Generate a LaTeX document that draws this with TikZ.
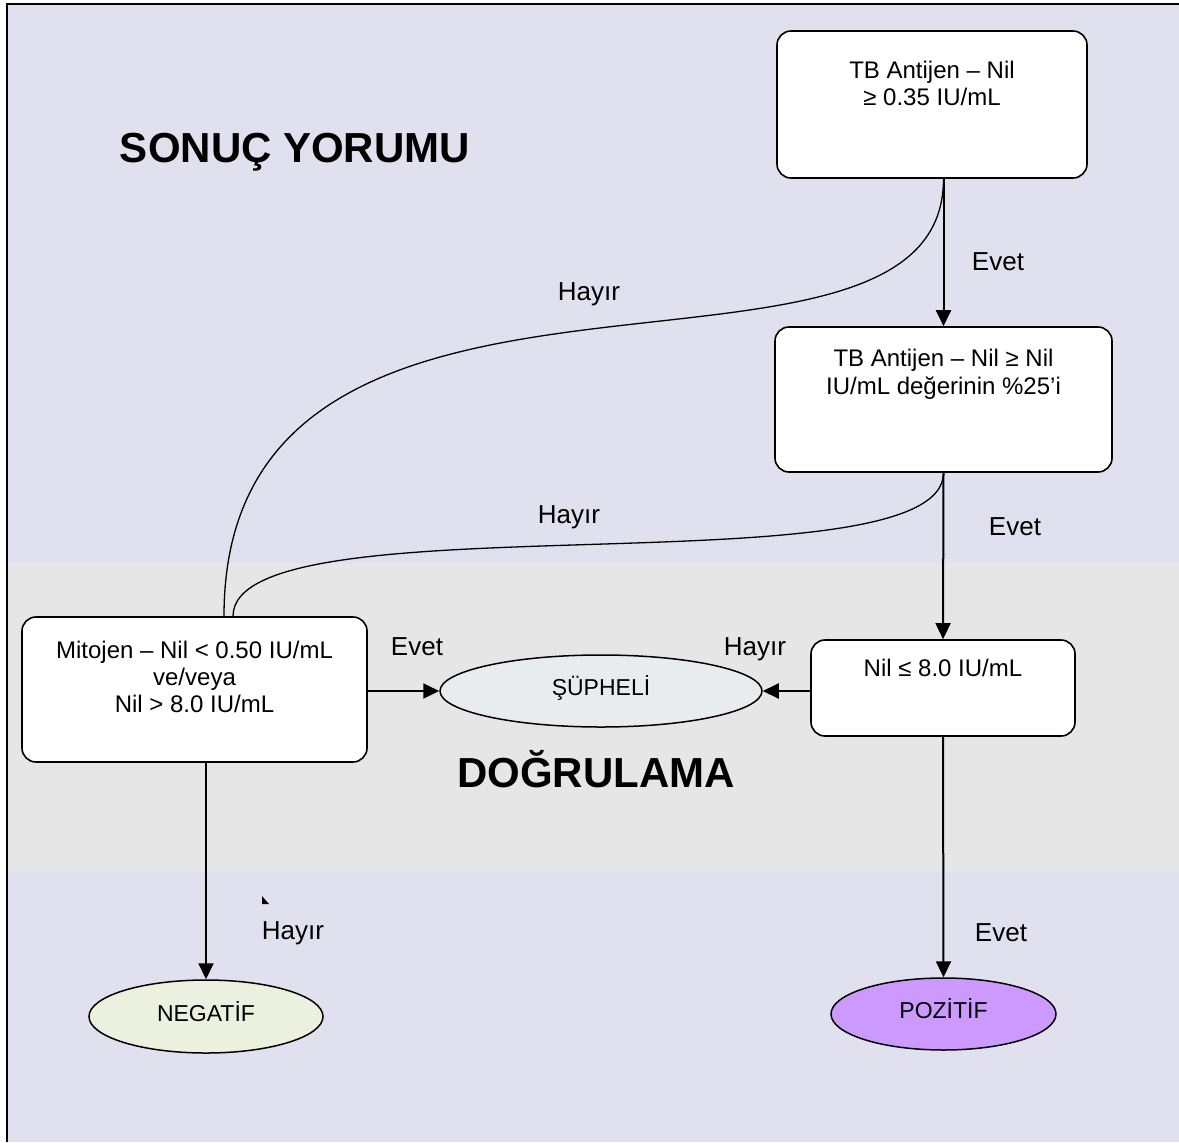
\documentclass[tikz,border=0pt]{standalone}
\usepackage{fontspec}
\setmainfont{Liberation Sans}
\usetikzlibrary{arrows.meta, positioning, shapes.geometric}
\definecolor{lavender}{RGB}{224,224,238}
\definecolor{bandgrey}{RGB}{230,230,230}
\definecolor{suphelifill}{RGB}{233,236,236}
\definecolor{negfill}{RGB}{235,241,222}
\definecolor{posfill}{RGB}{204,153,255}

\begin{document}
\begin{tikzpicture}[x=0.5pt, y=-0.5pt,
      block/.style={rectangle, rounded corners=7pt, draw, line width=0.8pt, fill=white, inner sep=0pt},
      result/.style={ellipse, draw, line width=0.75pt, inner sep=0pt, font=\fontsize{11.5}{13}\selectfont, text height=8.6pt, text depth=4pt},
      boxtext/.style={inner sep=0pt, align=center, font=\fontsize{12}{13.5}\selectfont},
      answer/.style={anchor=base, inner sep=0pt, font=\fontsize{13}{15}\selectfont},
      heading/.style={anchor=base, inner sep=0pt, font=\fontsize{21}{25}\selectfont\bfseries},
      flow/.style={-{Triangle[length=8pt, width=7.5pt]}, line width=1pt},
      swoop/.style={line width=0.65pt}]
      \useasboundingbox (0,0) rectangle (1179,1142);

      % Background bands
      \fill[lavender] (7,4) rectangle (1179,1142);
      \fill[bandgrey] (7,563) rectangle (1179,872);
      \draw[line width=1pt] (7,1142) -- (7,4) -- (1179,4);

      % Headings
      \node[heading] (sonuc) at (295,162) {SONUÇ YORUMU};
      \node[heading] (dogrulama) at (596,787) {DOĞRULAMA};

      % Blocks
      \node[block, minimum width=155pt, minimum height=73.5pt] (antijen) at (932,104.5) {};
      \node[block, minimum width=168.5pt, minimum height=72.5pt] (oran) at (943.5,399.5) {};
      \node[block, minimum width=172.5pt, minimum height=72.5pt] (mitojen) at (194.5,689.5) {};
      \node[block, minimum width=132pt, minimum height=48pt] (nil) at (943,688) {};

      \node[boxtext, below=15.5pt of antijen.north] (antijentxt) {TB Antijen – Nil\\≥ 0.35 IU/mL};
      \node[boxtext, below=11.5pt of oran.north] (orantxt) {TB Antijen – Nil ≥ Nil\\IU/mL değerinin \%25’i};
      \node[boxtext, below=12pt of mitojen.north] (mitojentxt) {Mitojen – Nil < 0.50 IU/mL\\ve/veya\\Nil > 8.0 IU/mL};
      \node[boxtext, below=9.5pt of nil.north] (niltxt) {Nil ≤ 8.0 IU/mL};

      % Results
      \node[result, fill=suphelifill, minimum width=161pt, minimum height=36pt] (supheli) at (601,691) {ŞÜPHELİ};
      \node[result, fill=negfill, minimum width=117pt, minimum height=36.5pt] (negatif) at (206,1016.5) {NEGATİF};
      \node[result, fill=posfill, minimum width=112.5pt, minimum height=36pt] (pozitif) at (943.5,1014) {POZİTİF};

      % Arrows
      \draw[flow] (antijen.south -| oran.north) -- (oran.north);
      \draw[flow] (oran.south) -- (nil.north);
      \draw[flow] (nil.south) -- (pozitif.north);
      \draw[flow] (nil.west |- supheli.east) -- (supheli.east);
      \draw[flow] (mitojen.east |- supheli.west) -- (supheli.west);
      \draw[flow] (mitojen.south -| negatif.north) -- (negatif.north);

      % Curved lines
      \draw[swoop] (antijen.south -| oran.north) .. controls +(0,255) and +(0,-435) .. ([xshift=14.75pt]mitojen.north);
      \draw[swoop] (oran.south) .. controls +(0,121) and +(0,-121) .. ([xshift=19.25pt]mitojen.north);

      % Stray mark
      \fill (262,896) -- (262,904) -- (269,904) -- cycle;

      % Labels
      \node[answer] (evet1) at (998,270) {Evet};
      \node[answer] (hayir1) at (589,300) {Hayır};
      \node[answer] (hayir2) at (569,523) {Hayır};
      \node[answer] (evet2) at (1015,535) {Evet};
      \node[answer] (evet3) at (417,655) {Evet};
      \node[answer] (hayir3) at (755,655) {Hayır};
      \node[answer] (hayir4) at (293,939) {Hayır};
      \node[answer] (evet4) at (1001,941) {Evet};
    \end{tikzpicture}
\end{document}
